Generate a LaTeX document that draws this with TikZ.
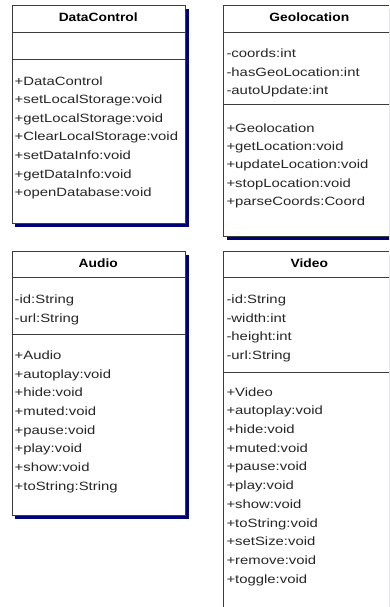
\documentclass[tikz,border=0pt]{standalone}
\usepackage{fontspec}
\usetikzlibrary{shadows}
\newfontfamily\umlfont[FakeStretch=1.24]{Liberation Sans}
\newfontfamily\umltitlefont[FakeStretch=1.15]{Liberation Sans}
\definecolor{edgegray}{RGB}{60,60,60}
\definecolor{shadenavy}{RGB}{0,0,120}
\tikzset{
  classbox/.style={draw=edgegray, line width=1pt, fill=white, anchor=north west, inner sep=0pt,
    drop shadow={fill=shadenavy, opacity=1, shadow xshift=3pt, shadow yshift=-3pt}},
  sepline/.style={draw=edgegray, line width=1pt},
  classtitle/.style={anchor=base, inner sep=0pt, font=\umltitlefont\bfseries\fontsize{12pt}{14pt}\selectfont},
  member/.style={anchor=base west, inner sep=0pt, text=black!85, font=\umlfont\fontsize{12pt}{14pt}\selectfont}
}
\begin{document}
\begin{tikzpicture}[x=1pt,y=-1pt]
\useasboundingbox (0,0) rectangle (389,607);
\begin{scope}
\clip (0,0) rectangle (389,607);
% boxes
\node[classbox, minimum width=173.5pt, minimum height=217.7pt] (dc) at (11.5,5.3) {};
\node[classbox, minimum width=172pt, minimum height=230.7pt] (geo) at (223.3,5.3) {};
\node[classbox, minimum width=173.5pt, minimum height=264pt] (aud) at (11.5,251) {};
\node[classbox, minimum width=172pt, minimum height=380pt] (vid) at (223.3,251) {};
% separators
\draw[sepline] (dc.west |- 0,32.7) -- (dc.east |- 0,32.7);
\draw[sepline] (dc.west |- 0,59.3) -- (dc.east |- 0,59.3);
\draw[sepline] (geo.west |- 0,32.7) -- (geo.east |- 0,32.7);
\draw[sepline] (geo.west |- 0,105) -- (geo.east |- 0,105);
\draw[sepline] (aud.west |- 0,277) -- (aud.east |- 0,277);
\draw[sepline] (aud.west |- 0,334) -- (aud.east |- 0,334);
\draw[sepline] (vid.west |- 0,277) -- (vid.east |- 0,277);
\draw[sepline] (vid.west |- 0,372) -- (vid.east |- 0,372);
% titles
\node[classtitle] (dc-title) at (98.25,21.6) {DataControl};
\node[classtitle] (geo-title) at (309.3,21.6) {Geolocation};
\node[classtitle] (aud-title) at (98.25,267.6) {Audio};
\node[classtitle] (vid-title) at (309.3,267.6) {Video};
% DataControl
\foreach \t [count=\i from 0] in {+DataControl,+setLocalStorage:void,+getLocalStorage:void,+ClearLocalStorage:void,+setDataInfo:void,+getDataInfo:void,+openDatabase:void}
  \node[member] (dc-m\i) at (14.5,85.3+18.55*\i) {\t};
% Geolocation
\foreach \t [count=\i from 0] in {-coords:int,-hasGeoLocation:int,-autoUpdate:int}
  \node[member] (geo-a\i) at (226.3,57.6+18.65*\i) {\t};
\foreach \t [count=\i from 0] in {+Geolocation,+getLocation:void,+updateLocation:void,+stopLocation:void,+parseCoords:Coord}
  \node[member] (geo-m\i) at (226.3,132+18.4*\i) {\t};
% Audio
\foreach \t [count=\i from 0] in {-id:String,-url:String}
  \node[member] (aud-a\i) at (14.5,303.6+18.5*\i) {\t};
\foreach \t [count=\i from 0] in {+Audio,+autoplay:void,+hide:void,+muted:void,+pause:void,+play:void,+show:void,+toString:String}
  \node[member] (aud-m\i) at (14.5,359.3+18.7*\i) {\t};
% Video
\foreach \t [count=\i from 0] in {-id:String,-width:int,-height:int,-url:String}
  \node[member] (vid-a\i) at (226.3,303.6+18.5*\i) {\t};
\foreach \t [count=\i from 0] in {+Video,+autoplay:void,+hide:void,+muted:void,+pause:void,+play:void,+show:void,+toString:void,+setSize:void,+remove:void,+toggle:void}
  \node[member] (vid-m\i) at (226.3,396+18.73*\i) {\t};
\end{scope}
\end{tikzpicture}
\end{document}
